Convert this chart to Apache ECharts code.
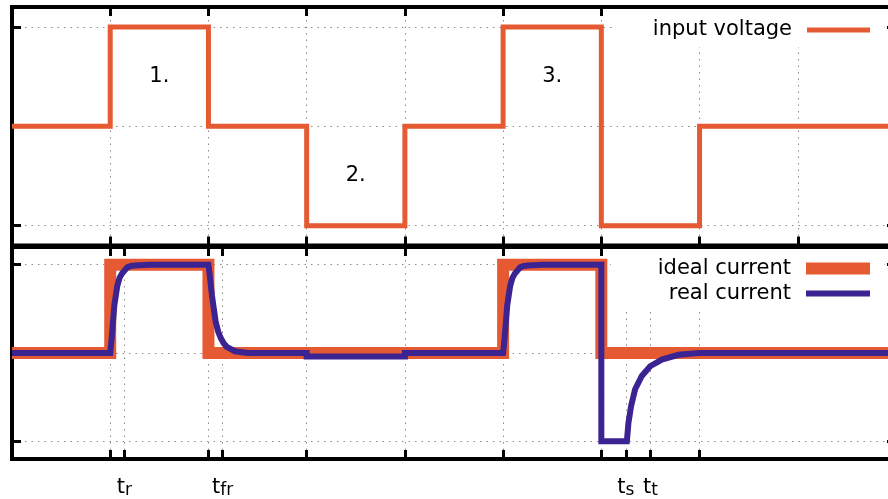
<!DOCTYPE html>
<html>
<head>
<meta charset="utf-8">
<script src="https://cdn.jsdelivr.net/npm/echarts@6/dist/echarts.min.js"></script>
<style>
html,body{margin:0;padding:0;background:#fff;}
#chart{width:888px;height:499px;}
</style>
</head>
<body>
<div id="chart"></div>
<script>
// ---- data ----
const voltageT = [0, 1, 2, 3, 4, 5, 6, 7, 9];
const voltageV = [0, 1, 0, -1, 0, 1, -1, 0, 0];

const idealT = [0, 1, 2, 5, 6, 9];
const idealV = [0, 1, 0, 1, 0, 0];

const realT = [0, 1.0, 1.015, 1.042, 1.072, 1.095, 1.12, 1.174, 1.21, 1.25, 1.4, 2.0, 2.01, 2.036, 2.074, 2.1, 2.125, 2.155, 2.186, 2.27, 2.4,
  3.0, 3.0, 4.0, 4.0,
  5.0, 5.015, 5.042, 5.072, 5.095, 5.12, 5.174, 5.21, 5.25, 5.4, 6.0, 6.0, 6.26, 6.276, 6.303, 6.344, 6.412, 6.497, 6.616, 6.785, 6.99, 9];
const realV = [0, 0, 0.17, 0.54, 0.76, 0.85, 0.9, 0.97, 0.985, 0.99, 1.0, 1.0, 0.91, 0.65, 0.35, 0.24, 0.17, 0.11, 0.07, 0.02, 0,
  0, -0.04, -0.04, 0,
  0, 0.17, 0.54, 0.76, 0.85, 0.9, 0.97, 0.985, 0.99, 1.0, 1.0, -1.0, -1.0, -0.79, -0.6, -0.41, -0.26, -0.15, -0.075, -0.02, 0, 0];

const annotX = [1.5, 3.5, 5.5];
const annotY = [0.5, -0.5, 0.5];
const annotText = ['1.', '2.', '3.'];

const xTicksTop = [1, 2, 3, 4, 5, 6, 7, 8];
const xTicksBottom = [1, 1.145, 2, 2.145, 3, 4, 5, 6, 6.25, 6.5, 7];
const yTicks = [-1, 0, 1];
const tickLabelValues = [1.145, 2.145, 6.25, 6.5];
const tickLabelMain = ['t', 't', 't', 't'];
const tickLabelSub = ['r', 'fr', 's', 't'];

const seriesNames = ['input voltage', 'ideal current', 'real current'];

// ---- styling ----
const ORANGE = '#E55A33';
const PURPLE = '#3B2392';
const FONT = 'DejaVu Sans';
const dotted = {show: true, lineStyle: {color: '#8a8a8a', width: 1, type: [1.5, 5]}};
const tickStyle = (vals) => ({show: true, inside: true, length: 9, customValues: vals, lineStyle: {color: '#000', width: 3}});

function xAxisDef(grid, pos, ticks, withSplit, withLabels) {
  const a = {
    gridIndex: grid, type: 'value', min: 0, max: 9, position: pos,
    axisLine: {show: false, onZero: false},
    axisTick: tickStyle(ticks),
    axisLabel: {show: false},
    splitLine: withSplit ? dotted : {show: false}
  };
  if (withLabels) {
    a.axisLabel = {
      show: true, customValues: tickLabelValues, margin: 18,
      formatter: function (v) {
        let idx = -1;
        tickLabelValues.forEach((t, i) => { if (Math.abs(t - v) < 1e-6) idx = i; });
        if (idx < 0) return '';
        return '{m|' + tickLabelMain[idx] + '}{s|' + tickLabelSub[idx] + '}';
      },
      rich: {
        m: {fontFamily: FONT, fontSize: 21, lineHeight: 26, color: '#000', verticalAlign: 'top'},
        s: {fontFamily: FONT, fontSize: 17, lineHeight: 26, padding: [5, 0, 0, 0], color: '#000', verticalAlign: 'top'}
      }
    };
  }
  return a;
}
function yAxisDef(grid, pos, withSplit) {
  return {
    gridIndex: grid, type: 'value', min: -1.2, max: 1.2, position: pos,
    axisLine: {show: false, onZero: false},
    axisTick: tickStyle(yTicks),
    axisLabel: {show: false},
    splitLine: withSplit ? dotted : {show: false}
  };
}

const zip = (a, b) => a.map((v, i) => [v, b[i]]);

const legendText = {fontFamily: FONT, fontSize: 21, lineHeight: 21, color: '#000', padding: [4, 10, 0, 0]};

const option = {
  animation: false,
  backgroundColor: '#fff',
  grid: [
    {left: 12, top: 7, width: 884, height: 238.5, show: true, borderColor: '#000', borderWidth: 4, backgroundColor: 'transparent', z: 3, outerBoundsMode: 'none', containLabel: false},
    {left: 12, top: 247, width: 884, height: 212, show: true, borderColor: '#000', borderWidth: 4, backgroundColor: 'transparent', z: 3, outerBoundsMode: 'none', containLabel: false}
  ],
  xAxis: [
    xAxisDef(0, 'bottom', xTicksTop, true, false),
    xAxisDef(0, 'top', xTicksTop, false, false),
    xAxisDef(1, 'bottom', xTicksBottom, true, true),
    xAxisDef(1, 'top', xTicksBottom, false, false)
  ],
  yAxis: [
    yAxisDef(0, 'left', true),
    yAxisDef(0, 'right', false),
    yAxisDef(1, 'left', true),
    yAxisDef(1, 'right', false)
  ],
  legend: [
    {
      data: [{name: seriesNames[0], icon: 'rect', itemStyle: {color: ORANGE, borderWidth: 0}}],
      orient: 'vertical', align: 'right', right: 4, top: 9,
      itemWidth: 63, itemHeight: 5, padding: [8.5, 14, 4.5, 40],
      backgroundColor: '#fff', selectedMode: false, textStyle: legendText
    },
    {
      data: [{name: seriesNames[1], icon: 'rect', itemStyle: {color: ORANGE, borderWidth: 0}}],
      orient: 'vertical', align: 'right', right: 4, top: 249,
      itemWidth: 64, itemHeight: 12, padding: [7, 14, 2, 47],
      backgroundColor: '#fff', selectedMode: false, textStyle: legendText
    },
    {
      data: [{name: seriesNames[2], icon: 'rect', itemStyle: {color: PURPLE, borderWidth: 0}}],
      orient: 'vertical', align: 'right', right: 4, top: 281,
      itemWidth: 64, itemHeight: 6, padding: [0, 14, 2.5, 58],
      backgroundColor: '#fff', selectedMode: false, textStyle: legendText
    }
  ],
  series: [
    {
      name: seriesNames[0], type: 'line', xAxisIndex: 0, yAxisIndex: 0,
      data: zip(voltageT, voltageV), step: 'end', showSymbol: false, symbol: 'none',
      color: ORANGE, itemStyle: {color: ORANGE},
      lineStyle: {color: ORANGE, width: 5, join: 'miter', cap: 'butt'}, silent: true
    },
    {
      name: seriesNames[1], type: 'line', xAxisIndex: 2, yAxisIndex: 2,
      data: zip(idealT, idealV), step: 'end', showSymbol: false, symbol: 'none',
      color: ORANGE, itemStyle: {color: ORANGE},
      lineStyle: {color: ORANGE, width: 12, join: 'miter', cap: 'butt'}, silent: true
    },
    {
      name: seriesNames[2], type: 'line', xAxisIndex: 2, yAxisIndex: 2,
      data: zip(realT, realV), showSymbol: false, symbol: 'none',
      color: PURPLE, itemStyle: {color: PURPLE},
      lineStyle: {color: PURPLE, width: 6, join: 'miter', cap: 'butt'}, silent: true
    },
    {
      name: 'annotations', type: 'scatter', xAxisIndex: 0, yAxisIndex: 0,
      data: zip(annotX, annotY), symbolSize: 1, itemStyle: {color: 'rgba(0,0,0,0)'}, silent: true,
      label: {
        show: true, position: 'inside', formatter: (p) => annotText[p.dataIndex],
        fontFamily: FONT, fontSize: 21, color: '#000', opacity: 1
      }
    }
  ]
};

const chart = echarts.init(document.getElementById('chart'), null, {renderer: 'canvas'});
chart.setOption(option);
</script>
</body>
</html>
